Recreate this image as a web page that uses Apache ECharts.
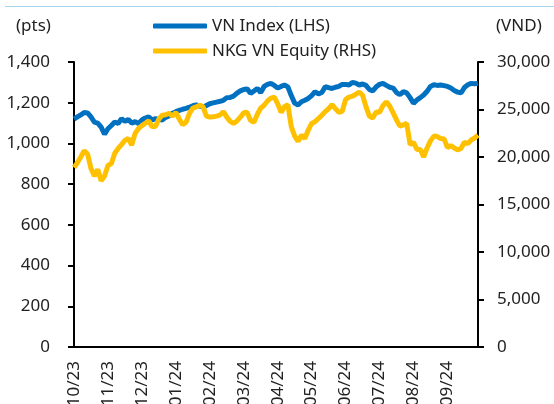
<!DOCTYPE html>
<html>
<head>
<meta charset="utf-8">
<script src="https://cdn.jsdelivr.net/npm/echarts@6/dist/echarts.min.js"></script>
<style>
  html, body { margin: 0; padding: 0; background: #fff; }
  #chart { width: 554px; height: 404px; }
</style>
</head>
<body>
<div id="chart"></div>
<script>
// month labels on the x axis, 10 readings per month
const months = ['10/23', '11/23', '12/23', '01/24', '02/24', '03/24', '04/24', '05/24', '06/24', '07/24', '08/24', '09/24'];
const pointsPerMonth = 10;

// VN Index, pts (left axis)
const vnIndex = [
  1120, 1130, 1140, 1152, 1150, 1130, 1105, 1100, 1080, 1045,
  1072, 1088, 1105, 1098, 1122, 1108, 1118, 1100, 1107, 1098,
  1115, 1125, 1131, 1115, 1122, 1118, 1115, 1128, 1135, 1148,
  1156, 1162, 1168, 1172, 1178, 1185, 1189, 1184, 1180, 1186,
  1195, 1199, 1203, 1207, 1212, 1225, 1226, 1232, 1247, 1258,
  1265, 1268, 1246, 1258, 1270, 1250, 1280, 1290, 1295, 1285,
  1272, 1280, 1287, 1278, 1235, 1198, 1189, 1205, 1212, 1221,
  1235, 1254, 1243, 1250, 1279, 1274, 1270, 1276, 1280, 1290,
  1290, 1287, 1300, 1296, 1287, 1292, 1285, 1265, 1258, 1278,
  1290, 1295, 1285, 1276, 1272, 1250, 1240, 1254, 1248, 1225,
  1197, 1213, 1225, 1238, 1256, 1280, 1288, 1285, 1287, 1284,
  1280, 1272, 1260, 1252, 1248, 1275, 1288, 1295, 1293, 1295
];

// NKG VN Equity, VND (right axis)
const nkgPrice = [
  18900, 19400, 20000, 20650, 20300, 18800, 18000, 18700, 17500, 18000,
  19100, 19300, 20400, 20900, 21300, 21750, 21960, 21260, 22490, 23000,
  23300, 23550, 23800, 23200, 23200, 24000, 24400, 24450, 24600, 24300,
  24700, 24000, 23400, 23650, 24600, 25150, 25270, 25450, 25300, 24300,
  24200, 24240, 24300, 24420, 24770, 24200, 23750, 23540, 23800, 24200,
  24650, 24700, 23850, 23650, 24500, 25150, 25450, 25900, 26200, 26300,
  25600, 24700, 25300, 25500, 23200, 22200, 21650, 22300, 21950, 22840,
  23540, 23720, 24050, 24400, 24780, 25100, 25500, 25100, 24700, 24800,
  26050, 26300, 26400, 26600, 26850, 26500, 25300, 24300, 24100, 24750,
  24700, 25400, 25800, 25350, 24650, 23900, 23250, 23370, 23540, 21300,
  21550, 20800, 20800, 20000, 20950, 21700, 22200, 22150, 21950, 21900,
  21000, 21200, 20950, 20750, 20900, 21550, 21400, 21800, 22000, 22300
];

const leftMax = 1400, leftStep = 200;
const rightMax = 30000, rightStep = 5000;

const categories = months.flatMap(m => Array.from({ length: pointsPerMonth }, (_, k) => m + '#' + k));

const font = 'Noto Sans';
const txt = '#222';
const fmt = v => v.toLocaleString('en-US');

const myChart = echarts.init(document.getElementById('chart'));

const option = {
  animation: false,
  textStyle: { fontFamily: font },
  grid: { left: 74, right: 76, top: 62, bottom: 57, outerBoundsMode: 'none', containLabel: false },
  legend: {
    orient: 'vertical',
    left: 148,
    top: 11,
    itemWidth: 54,
    itemHeight: 5,
    itemGap: 5,
    icon: 'roundRect',
    textStyle: { fontFamily: font, fontSize: 17, color: txt, lineHeight: 20 },
    data: ['VN Index (LHS)', 'NKG VN Equity (RHS)']
  },
  graphic: [
    { type: 'line', shape: { x1: 5, y1: 6.5, x2: 554, y2: 6.5 }, style: { stroke: '#a6d5f0', lineWidth: 1 } },
    { type: 'text', left: 16, top: 18, style: { text: '(pts)', font: '17px "Noto Sans"', fill: txt } },
    { type: 'text', left: 496, top: 18, style: { text: '(VND)', font: '17px "Noto Sans"', fill: txt } }
  ],
  xAxis: {
    type: 'category',
    data: categories,
    boundaryGap: false,
    axisLine: { show: true, lineStyle: { color: '#000', width: 2 } },
    axisTick: { show: false },
    axisLabel: {
      rotate: 90,
      margin: 14,
      fontSize: 17,
      color: txt,
      interval: (i) => i % pointsPerMonth === 0,
      formatter: v => v.split('#')[0]
    },
    splitLine: { show: false }
  },
  yAxis: [
    {
      type: 'value',
      min: 0,
      max: leftMax,
      interval: leftStep,
      position: 'left',
      axisLine: { show: true, lineStyle: { color: '#000', width: 2 } },
      axisTick: { show: true, length: 6, lineStyle: { color: '#000', width: 2 } },
      axisLabel: { fontSize: 17, color: txt, margin: 24, formatter: fmt },
      splitLine: { show: false }
    },
    {
      type: 'value',
      min: 0,
      max: rightMax,
      interval: rightStep,
      position: 'right',
      axisLine: { show: true, lineStyle: { color: '#000', width: 2 } },
      axisTick: { show: true, length: 6, lineStyle: { color: '#000', width: 2 } },
      axisLabel: { fontSize: 17, color: txt, margin: 19, formatter: fmt },
      splitLine: { show: false }
    }
  ],
  series: [
    {
      name: 'VN Index (LHS)',
      type: 'line',
      yAxisIndex: 0,
      data: vnIndex,
      showSymbol: false,
      color: '#0070c0',
      lineStyle: { width: 5, color: '#0070c0' }
    },
    {
      name: 'NKG VN Equity (RHS)',
      type: 'line',
      yAxisIndex: 1,
      data: nkgPrice,
      showSymbol: false,
      color: '#ffc000',
      lineStyle: { width: 5, color: '#ffc000' }
    }
  ]
};
myChart.setOption(option);
</script>
</body>
</html>
